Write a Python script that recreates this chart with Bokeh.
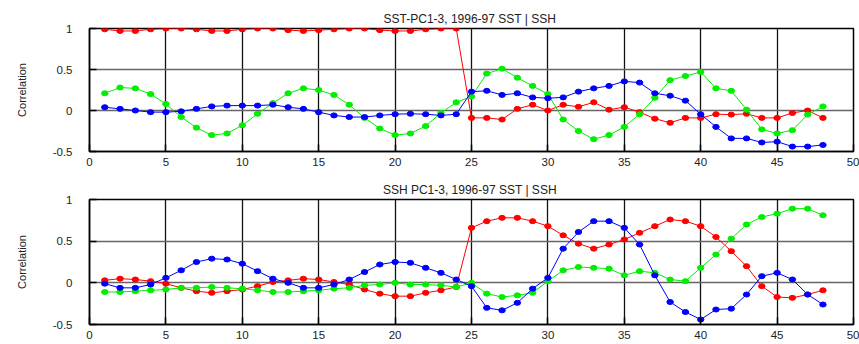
from bokeh.plotting import figure
from bokeh.layouts import column
from bokeh.models import FixedTicker, Range1d
from bokeh.embed import file_html
from bokeh.resources import INLINE

# ---- data ----
x = list(range(1, 49))

top_title = "SST-PC1-3,  1996-97 SST | SSH"
bot_title = "SSH PC1-3,  1996-97 SST | SSH"

top_red = [0.99, 0.97, 0.97, 0.99, 1.0, 1.0, 0.99, 0.97, 0.97, 0.99, 1.0, 1.0,
           0.98, 0.97, 0.98, 0.99, 1.0, 1.0, 0.98, 0.97, 0.97, 0.99, 1.0, 1.0,
           -0.09, -0.09, -0.11, 0.02, 0.07, 0.0, 0.07, 0.045, 0.10, 0.01, 0.04, -0.02,
           -0.10, -0.15, -0.09, -0.09, -0.045, -0.05, -0.04, -0.09, -0.09, -0.03, 0.0, -0.09]
top_green = [0.21, 0.28, 0.27, 0.20, 0.08, -0.08, -0.21, -0.30, -0.28, -0.18, -0.04, 0.09,
             0.21, 0.27, 0.25, 0.19, 0.07, -0.09, -0.22, -0.30, -0.28, -0.19, -0.03, 0.10,
             0.17, 0.45, 0.51, 0.40, 0.30, 0.20, -0.11, -0.25, -0.35, -0.30, -0.20, -0.045,
             0.155, 0.37, 0.42, 0.47, 0.27, 0.24, 0.01, -0.23, -0.28, -0.24, -0.05, 0.05]
top_blue = [0.04, 0.02, 0.0, -0.02, -0.02, -0.01, 0.02, 0.05, 0.06, 0.06, 0.06, 0.07,
            0.04, 0.02, -0.02, -0.06, -0.08, -0.08, -0.06, -0.045, -0.04, -0.045, -0.06, -0.045,
            0.23, 0.24, 0.19, 0.21, 0.16, 0.15, 0.16, 0.23, 0.27, 0.30, 0.355, 0.34,
            0.21, 0.18, 0.12, -0.045, -0.20, -0.34, -0.34, -0.39, -0.38, -0.44, -0.44, -0.42]

bot_red = [0.03, 0.05, 0.04, 0.02, -0.01, -0.06, -0.10, -0.12, -0.10, -0.08, -0.04, 0.01,
           0.03, 0.05, 0.04, 0.01, -0.02, -0.08, -0.13, -0.16, -0.16, -0.12, -0.09, -0.05,
           0.66, 0.74, 0.78, 0.78, 0.74, 0.68, 0.57, 0.47, 0.41, 0.46, 0.52, 0.60,
           0.68, 0.76, 0.74, 0.68, 0.55, 0.38, 0.20, -0.04, -0.17, -0.18, -0.14, -0.09]
bot_green = [-0.11, -0.11, -0.10, -0.09, -0.08, -0.06, -0.06, -0.05, -0.06, -0.07, -0.09, -0.11,
             -0.11, -0.10, -0.09, -0.07, -0.06, -0.03, -0.02, 0.0, -0.02, -0.02, -0.03, -0.05,
             0.0, -0.13, -0.17, -0.15, -0.12, 0.02, 0.15, 0.19, 0.18, 0.17, 0.09, 0.14,
             0.12, 0.04, 0.02, 0.18, 0.34, 0.53, 0.70, 0.79, 0.83, 0.89, 0.89, 0.81]
bot_blue = [-0.01, -0.06, -0.06, -0.02, 0.06, 0.15, 0.25, 0.29, 0.28, 0.23, 0.14, 0.05,
            0.0, -0.06, -0.06, -0.02, 0.04, 0.13, 0.22, 0.25, 0.24, 0.18, 0.12, 0.04,
            -0.04, -0.30, -0.33, -0.24, -0.07, 0.06, 0.41, 0.61, 0.74, 0.74, 0.66, 0.46,
            0.09, -0.23, -0.35, -0.44, -0.32, -0.31, -0.14, 0.08, 0.12, 0.04, -0.14, -0.26]

x_ticks = [0, 5, 10, 15, 20, 25, 30, 35, 40, 45, 50]
y_ticks = [-0.5, 0, 0.5, 1]
y_tick_labels = ["-0.5", "0", "0.5", "1"]
y_label = "Correlation"

FONT = "Liberation Sans"


def make(title, red, green, blue, h, btop, bbot):
    p = figure(width=859, height=h, output_backend="svg", toolbar_location=None,
               x_range=Range1d(0, 50), y_range=Range1d(-0.5, 1),
               min_border_left=89, min_border_right=6,
               min_border_top=btop, min_border_bottom=bbot, title=title)
    p.title.align = "center"
    p.title.text_font = FONT
    p.title.text_font_size = "12px"
    p.title.text_font_style = "normal"
    p.title.text_color = "#222222"
    p.title.standoff = 6
    p.title.offset = 0

    p.outline_line_color = "black"
    p.outline_line_width = 1.5
    p.outline_line_alpha = 1

    p.xaxis.ticker = FixedTicker(ticks=x_ticks)
    p.yaxis.ticker = FixedTicker(ticks=y_ticks)
    p.yaxis.major_label_overrides = {t: l for t, l in zip(y_ticks, y_tick_labels)}
    for ax in (p.xaxis, p.yaxis):
        ax.axis_line_color = "black"
        ax.axis_line_width = 1.5
        ax.major_tick_in = 7
        ax.major_tick_out = 0
        ax.major_tick_line_color = "black"
        ax.major_tick_line_width = 1.5
        ax.minor_tick_line_color = None
        ax.major_label_text_font = FONT
        ax.major_label_text_font_size = "11.5px"
        ax.major_label_text_color = "#222222"
    p.xaxis.major_label_standoff = 6
    p.yaxis.major_label_standoff = 17
    p.yaxis.axis_label = y_label
    p.yaxis.axis_label_text_font = FONT
    p.yaxis.axis_label_text_font_size = "11px"
    p.yaxis.axis_label_text_font_style = "normal"
    p.yaxis.axis_label_text_color = "#222222"
    p.yaxis.axis_label_standoff = 22

    p.xgrid.ticker = FixedTicker(ticks=x_ticks)
    p.xgrid.grid_line_color = "#111111"
    p.xgrid.grid_line_width = 1.3
    p.ygrid.grid_line_color = "#666666"
    p.ygrid.grid_line_width = 1.6

    for vals, col in ((red, "#ff0000"), (green, "#00ee00"), (blue, "#0000ff")):
        p.line(x, vals, line_color=col, line_width=1)
        p.ellipse(x, vals, width=6.5, height=5, width_units="screen", height_units="screen",
                  fill_color=col, line_color=col)
    return p


p1 = make(top_title, top_red, top_green, top_blue, 176, 28, 25)
p2 = make(bot_title, bot_red, bot_green, bot_blue, 168, 23, 20)

layout = column(p1, p2, spacing=0)
open("out.html", "w").write(file_html(layout, INLINE))
